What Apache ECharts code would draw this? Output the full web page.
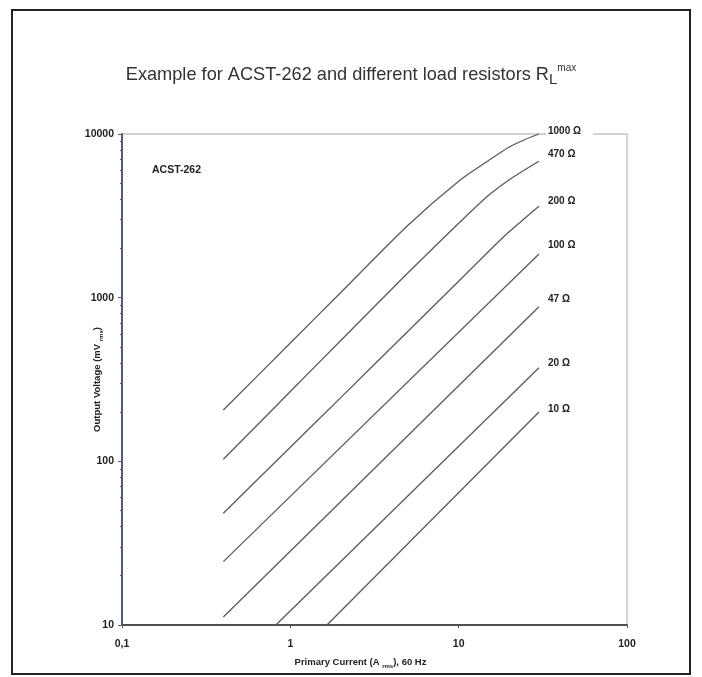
<!DOCTYPE html>
<html><head><meta charset="utf-8">
<script src="https://cdn.jsdelivr.net/npm/echarts@6/dist/echarts.min.js"></script>
<style>html,body{margin:0;padding:0;background:#fff}#c{width:702px;height:677px}</style>
</head><body><div id="c"></div>
<script>
// Primary current (A rms) sample points for the curved (saturating) characteristics
const currentsCurved = [0.4, 1, 2, 5, 10, 15, 20, 25, 30];
const v1000 = [206, 528, 1079, 2770, 5150, 6870, 8330, 9290, 10000];
const v470  = [103, 267, 549, 1419, 2847, 4210, 5260, 6085, 6810];
const v200  = [48.2, 122, 246, 624, 1259, 1909, 2534, 3085, 3622];
// Straight characteristics: start and end points
const i100 = [0.4, 30];  const v100 = [24.4, 1850];
const i47  = [0.4, 30];  const v47  = [11.2, 881];
const i20  = [0.82, 30]; const v20  = [10, 373];
const i10  = [1.65, 30]; const v10  = [10, 200];

const seriesNames = ['1000 Ω', '470 Ω', '200 Ω', '100 Ω', '47 Ω', '20 Ω', '10 Ω'];
const xTickValues = [0.1, 1, 10, 100];
const xTickLabels = ['0,1', '1', '10', '100'];
const yTickValues = [10, 100, 1000, 10000];
const yTickLabels = ['10', '100', '1000', '10000'];

function tickLabel(values, labels) {
  return function (v) {
    for (let i = 0; i < values.length; i++) {
      if (Math.abs(Math.log10(v) - Math.log10(values[i])) < 1e-6) return labels[i];
    }
    return '';
  };
}
function pairs(xs, ys) { return xs.map((x, i) => [x, ys[i]]); }

const FONT = 'Liberation Sans, Arial, sans-serif';
const labelBase = { show: true, formatter: '{a}', color: '#222', fontSize: 10, fontWeight: 'bold',
  fontFamily: FONT, distance: 5 };

function mkSeries(name, data, offset, smooth, extra) {
  return {
    name: name, type: 'line', data: data, showSymbol: false, symbol: 'none',
    lineStyle: { color: '#5a5a5a', width: 1.3 }, smooth: smooth,
    endLabel: Object.assign({}, labelBase, { offset: offset }, extra || {}),
    emphasis: { disabled: true }, animation: false
  };
}

const chart = echarts.init(document.getElementById('c'), null, { renderer: 'canvas' });
chart.setOption({
  animation: false,
  backgroundColor: '#fff',
  grid: { left: 122, right: 75, top: 134, bottom: 52, show: true, borderColor: '#c4c4c4', borderWidth: 1.5,
          outerBoundsMode: 'none', containLabel: false },
  graphic: [
    { type: 'rect', shape: { x: 12, y: 10, width: 678, height: 664 }, style: { fill: null, stroke: '#222', lineWidth: 2 }, z: 0, silent: true },
    { type: 'text', left: 'center', top: 63, style: {
        text: '{t|Example for ACST-262 and different load resistors R}{s|L}{p|max}',
        rich: {
          t: { fontSize: 18.2, lineHeight: 24, fontFamily: FONT, fill: '#333', color: '#333' },
          s: { fontSize: 15, lineHeight: 14, verticalAlign: 'bottom', fontFamily: FONT, fill: '#333', color: '#333' },
          p: { fontSize: 10, lineHeight: 12, verticalAlign: 'top', fontFamily: FONT, fill: '#333', color: '#333' }
        } } },
    { type: 'text', left: 152, top: 165, style: { text: 'ACST-262', fontSize: 10.5, fontWeight: 'bold', fill: '#222',
        fontFamily: FONT } }
  ],
  xAxis: {
    type: 'log', logBase: 10, min: 0.1, max: 100,
    name: '{n|Primary Current (A }{s|rms}{n|), 60 Hz}', nameLocation: 'middle', nameGap: 30, nameMoveOverlap: false,
    nameTextStyle: { padding: [0, 28, 0, 0], rich: {
      n: { fontSize: 9.5, fontWeight: 'bold', color: '#222', fontFamily: FONT, lineHeight: 14 },
      s: { fontSize: 6, fontWeight: 'bold', color: '#222', verticalAlign: 'bottom', lineHeight: 6, fontFamily: FONT } } },
    axisLine: { show: true, lineStyle: { color: '#505050', width: 2 } },
    axisTick: { show: true, length: 3, lineStyle: { color: '#505050' } },
    axisLabel: { formatter: tickLabel(xTickValues, xTickLabels), color: '#222', fontSize: 10.5, fontWeight: 'bold',
      fontFamily: FONT, margin: 14 },
    splitLine: { show: false }
  },
  yAxis: {
    type: 'log', logBase: 10, min: 10, max: 10000,
    name: '{n|Output Voltage (mV }{s|rms}{n|)}', nameLocation: 'middle', nameGap: 18, nameRotate: 90, nameMoveOverlap: false,
    nameTextStyle: { rich: {
      n: { fontSize: 9.5, fontWeight: 'bold', color: '#222', fontFamily: FONT, lineHeight: 14 },
      s: { fontSize: 6, fontWeight: 'bold', color: '#222', verticalAlign: 'bottom', lineHeight: 6, fontFamily: FONT } } },
    axisLine: { show: true, lineStyle: { color: '#4e5d75', width: 2 } },
    axisTick: { show: true, length: 4, lineStyle: { color: '#4e5d75' } },
    minorTick: { show: true, splitNumber: 9, length: 2, lineStyle: { color: '#4e5d75' } },
    axisLabel: { formatter: tickLabel(yTickValues, yTickLabels), color: '#222', fontSize: 10.5, fontWeight: 'bold',
      fontFamily: FONT, margin: 8 },
    splitLine: { show: false }
  },
  series: [
    mkSeries(seriesNames[0], pairs(currentsCurved, v1000), [2, -3], 0.25, { backgroundColor: '#fff', padding: [2, 12, 2, 2] }),
    mkSeries(seriesNames[1], pairs(currentsCurved, v470), [4, -7], 0.25),
    mkSeries(seriesNames[2], pairs(currentsCurved, v200), [4, -5], 0.25),
    mkSeries(seriesNames[3], pairs(i100, v100), [4, -9], false),
    mkSeries(seriesNames[4], pairs(i47, v47), [4, -7], false),
    mkSeries(seriesNames[5], pairs(i20, v20), [4, -5], false),
    mkSeries(seriesNames[6], pairs(i10, v10), [4, -3], false)
  ]
});
</script></body></html>
